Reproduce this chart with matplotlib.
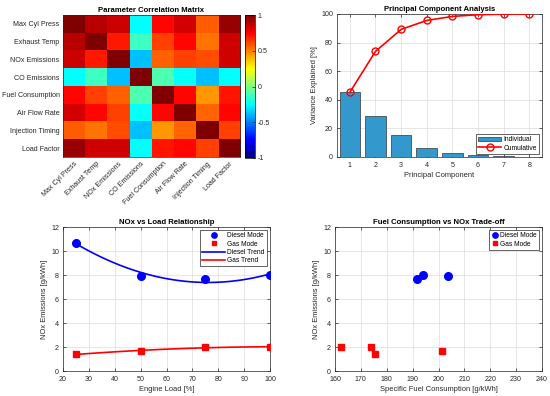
import numpy as np
import matplotlib
matplotlib.use("Agg")
import matplotlib.pyplot as plt
from matplotlib.colors import LinearSegmentedColormap

plt.rcParams['font.family'] = ['Liberation Sans', 'DejaVu Sans']

# ---------------- data ----------------
params = ['Max Cyl Press', 'Exhaust Temp', 'NOx Emissions', 'CO Emissions',
          'Fuel Consumption', 'Air Flow Rate', 'Injection Timing', 'Load Factor']
corr = np.array([
    [1.00, 0.89, 0.85, -0.25, 0.74, 0.83, 0.57, 0.95],
    [0.89, 1.00, 0.70, -0.13, 0.62, 0.74, 0.52, 0.84],
    [0.85, 0.70, 1.00, -0.37, 0.56, 0.62, 0.60, 0.84],
    [-0.25, -0.13, -0.37, 1.00, -0.10, -0.24, -0.37, -0.25],
    [0.74, 0.62, 0.56, -0.10, 1.00, 0.74, 0.45, 0.71],
    [0.83, 0.74, 0.62, -0.24, 0.74, 1.00, 0.55, 0.74],
    [0.57, 0.52, 0.60, -0.37, 0.45, 0.55, 1.00, 0.62],
    [0.95, 0.84, 0.84, -0.25, 0.71, 0.74, 0.62, 1.00],
])

pc_index = [1, 2, 3, 4, 5, 6, 7, 8]
pc_variance = [45.2, 28.6, 15.4, 6.3, 2.8, 1.2, 0.4, 0.1]

load = [25, 50, 75, 100]
nox_diesel = [10.7, 7.95, 7.65, 8.0]
nox_gas = [1.4, 1.65, 2.0, 2.0]
sfc_diesel = [250.0, 203.5, 191.5, 194.0]
sfc_gas = [175.5, 201.5, 174.0, 162.5]

# MATLAB-style jet colormap
mjet = LinearSegmentedColormap('mjet', {
    'red':   [(0, 0, 0), (0.375, 0, 0), (0.625, 1, 1), (0.875, 1, 1), (1, 0.5, 0.5)],
    'green': [(0, 0, 0), (0.125, 0, 0), (0.375, 1, 1), (0.625, 1, 1), (0.875, 0, 0), (1, 0, 0)],
    'blue':  [(0, 0.5, 0.5), (0.125, 1, 1), (0.375, 1, 1), (0.625, 0, 0), (1, 0, 0)],
}, N=256)

# ---------------- figure ----------------
W, H = 550, 396
fig = plt.figure(figsize=(W / 100, H / 100), dpi=100)

def rect(x0, y0, x1, y1):
    return [x0 / W, 1 - y1 / H, (x1 - x0) / W, (y1 - y0) / H]

tick_color = '#262626'
grid_kw = dict(color='#dcdcdc', linewidth=0.5)
fs_tick = 5.1
fs_label = 5.4
fs_title = 5.6
fs_leg = 4.8

def style(ax):
    ax.tick_params(labelsize=fs_tick, colors=tick_color, direction='in', length=2, width=0.5,
                   top=True, right=True, pad=2.8)
    ax.tick_params(axis='x', pad=3.5)
    for s in ax.spines.values():
        s.set_color('#262626')
        s.set_linewidth(0.5)

def leg_style(leg):
    leg.get_frame().set_linewidth(0.5)

# heatmap
ax1 = fig.add_axes(rect(63, 15, 240, 157))
im = ax1.imshow(corr, cmap=mjet, vmin=-1, vmax=1, aspect='auto')
ax1.set_xticks(range(len(params)))
ax1.set_yticks(range(len(params)))
ax1.set_xticklabels(params, rotation=45, ha='right', rotation_mode='anchor')
ax1.set_yticklabels(params)
style(ax1)
ax1.tick_params(top=False, right=False, length=0, pad=2.5)
ax1.set_title('Parameter Correlation Matrix', fontsize=fs_title, fontweight='bold', pad=2)
cax = fig.add_axes(rect(245, 15, 255, 158))
cb = fig.colorbar(im, cax=cax, ticks=[-1, -0.5, 0, 0.5, 1])
cb.ax.set_yticklabels(['-1', '-0.5', '0', '0.5', '1'])
cb.ax.tick_params(labelsize=fs_tick, colors=tick_color, direction='in', length=2, width=0.5, pad=2)
cb.outline.set_linewidth(0.5)

# PCA
ax2 = fig.add_axes(rect(337, 14, 542, 157))
bars = ax2.bar(pc_index, pc_variance, width=0.8, color='#3399cc', edgecolor='#333333',
               linewidth=0.5, label='Individual', zorder=2)
line, = ax2.plot(pc_index, np.cumsum(pc_variance), '-o', color='red', linewidth=1.2,
                 markersize=5, markerfacecolor='none', markeredgewidth=1.0, label='Cumulative', zorder=3)
ax2.set_xlim(0.5, 8.5)
ax2.set_ylim(0, 100)
ax2.set_xticks(pc_index)
ax2.grid(True, **grid_kw)
ax2.set_axisbelow(True)
style(ax2)
ax2.set_xlabel('Principal Component', fontsize=fs_label, color=tick_color, labelpad=2)
ax2.set_ylabel('Variance Explained [%]', fontsize=fs_label, color=tick_color, labelpad=2)
ax2.set_title('Principal Component Analysis', fontsize=fs_title, fontweight='bold', pad=2)
leg = ax2.legend([bars, line], ['Individual', 'Cumulative'], loc='lower right', fontsize=fs_leg,
                 fancybox=False, edgecolor='#262626', framealpha=1, borderpad=0.3,
                 labelspacing=0.2, handlelength=3.5, handletextpad=0.3)
leg_style(leg)

# NOx vs load
ax3 = fig.add_axes(rect(63, 227, 270, 371))
ax3.plot(load, nox_diesel, 'o', color='blue', markersize=5.5, label='Diesel Mode', zorder=3)
ax3.plot(load, nox_gas, 's', color='red', markersize=3.8, label='Gas Mode', zorder=3)
xf = np.linspace(min(load), max(load), 100)
pd_ = np.polyfit(load, nox_diesel, 2)
pg_ = np.polyfit(load, nox_gas, 2)
ax3.plot(xf, np.polyval(pd_, xf), '-', color='blue', linewidth=1.2, label='Diesel Trend')
ax3.plot(xf, np.polyval(pg_, xf), '-', color='red', linewidth=1.2, label='Gas Trend')
ax3.set_xlim(20, 100)
ax3.set_ylim(0, 12)
ax3.set_xticks(range(20, 101, 10))
ax3.set_yticks(range(0, 13, 2))
ax3.grid(True, **grid_kw)
ax3.set_axisbelow(True)
style(ax3)
ax3.set_xlabel('Engine Load [%]', fontsize=fs_label, color=tick_color, labelpad=2)
ax3.set_ylabel('NOx Emissions [g/kWh]', fontsize=fs_label, color=tick_color, labelpad=2)
ax3.set_title('NOx vs Load Relationship', fontsize=fs_title, fontweight='bold', pad=2)
leg = ax3.legend(loc='upper right', fontsize=fs_leg, fancybox=False, edgecolor='#262626',
                 framealpha=1, borderpad=0.3, labelspacing=0.2, handlelength=3.5,
                 handletextpad=0.3, markerscale=0.7)
leg_style(leg)

# fuel vs NOx
ax4 = fig.add_axes(rect(335, 227, 542, 371))
ax4.plot(sfc_diesel, nox_diesel, 'o', color='blue', markersize=5.5, label='Diesel Mode', zorder=3)
ax4.plot(sfc_gas, nox_gas, 's', color='red', markersize=3.8, label='Gas Mode', zorder=3)
ax4.set_xlim(160, 240)
ax4.set_ylim(0, 12)
ax4.set_xticks(range(160, 241, 10))
ax4.set_yticks(range(0, 13, 2))
ax4.grid(True, **grid_kw)
ax4.set_axisbelow(True)
style(ax4)
ax4.set_xlabel('Specific Fuel Consumption [g/kWh]', fontsize=fs_label, color=tick_color, labelpad=2)
ax4.set_ylabel('NOx Emissions [g/kWh]', fontsize=fs_label, color=tick_color, labelpad=2)
ax4.set_title('Fuel Consumption vs NOx Trade-off', fontsize=fs_title, fontweight='bold', pad=2)
leg = ax4.legend(loc='upper right', fontsize=fs_leg, fancybox=False, edgecolor='#262626',
                 framealpha=1, borderpad=0.3, labelspacing=0.2, handlelength=1.0,
                 handletextpad=0.3, markerscale=0.7)
leg_style(leg)

fig.savefig('out.png', dpi=100)
